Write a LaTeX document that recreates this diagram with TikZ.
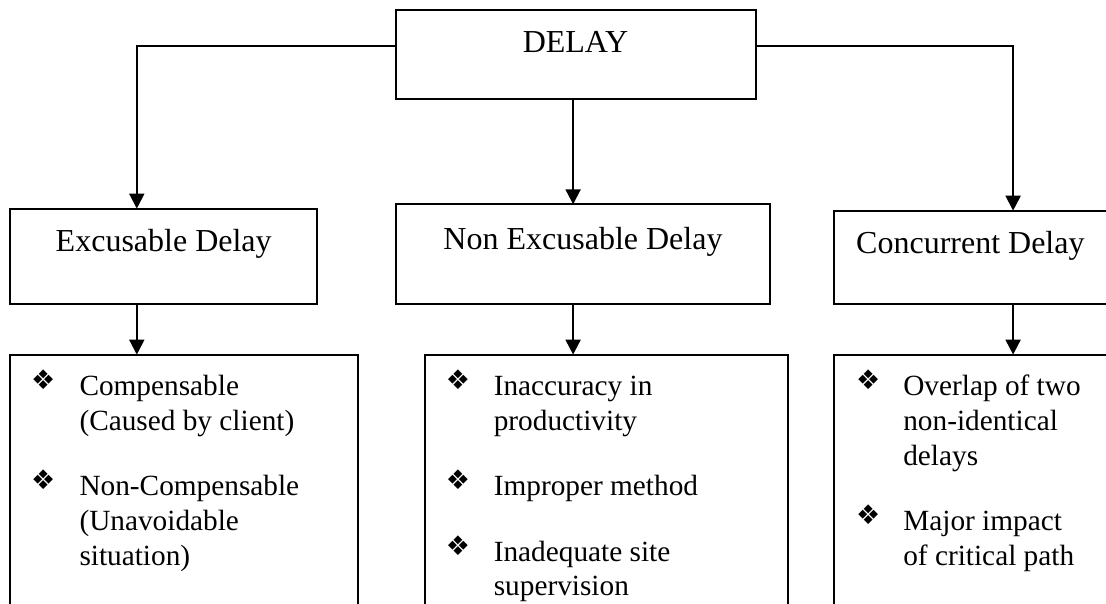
\documentclass[tikz,border=0pt]{standalone}
\usepackage{fontspec}
\setmainfont{Liberation Serif}
\newfontfamily\symfont{DejaVu Sans}
\usetikzlibrary{arrows.meta}

\tikzset{
  box/.style={draw, line width=2pt, inner sep=0pt, outer sep=0pt, anchor=north west},
  arrowlink/.style={line width=2pt, -{Triangle[width=15pt,length=15pt]}},
  head/.style={font=\fontsize{32}{34.7}\selectfont, inner sep=0pt},
  item/.style={font=\fontsize{29.3}{34.7}\selectfont, inner sep=0pt, anchor=base west,
               text width=290pt, align=flush left},
  bullet/.style={font=\symfont\fontsize{27}{27}\selectfont, inner sep=0pt}
}

\begin{document}
\begin{tikzpicture}[x=1pt, y=-1pt]
  \useasboundingbox (0,0) rectangle (1106,603);
  \clip (0,0) rectangle (1106,603);

  % boxes: top level, categories, lists of causes
  \node[box, minimum width=359.2pt, minimum height=89.7pt] (delay) at (396.4,9.6) {};
  \node[box, minimum width=307pt,   minimum height=95pt]   (exc)   at (10,208.6) {};
  \node[box, minimum width=373.9pt, minimum height=99.3pt] (nexc)  at (396.4,204.3) {};
  \node[box, minimum width=300pt,   minimum height=92.9pt] (conc)  at (834.2,210.7) {};
  \node[box, minimum width=347.9pt, minimum height=270pt]  (list1) at (10,354.6) {};
  \node[box, minimum width=362.8pt, minimum height=270pt]  (list2) at (425,354.6) {};
  \node[box, minimum width=300pt,   minimum height=270pt]  (list3) at (834.2,354.6) {};

  % branch lines
  \coordinate (jl) at (136.8,45.7);
  \coordinate (jm) at (573.1,45.7);
  \coordinate (jr) at (1013.1,45.7);

  \draw[arrowlink] (delay.west |- jl) -- (jl) -- (exc.north -| jl);
  \draw[arrowlink] (delay.south -| jm) -- (nexc.north -| jm);
  \draw[arrowlink] (delay.east |- jr) -- (jr) -- (conc.north -| jr);
  \draw[arrowlink] (exc.south -| jl) -- (list1.north -| jl);
  \draw[arrowlink] (nexc.south -| jm) -- (list2.north -| jm);
  \draw[arrowlink] (conc.south -| jr) -- (list3.north -| jr);

  % headings
  \node[head, anchor=base] (tdelay) at (575.5,52.9) {DELAY};
  \node[head, anchor=base] (texc) at (163.7,251.8) {Excusable Delay};
  \node[head, anchor=base] (tnexc) at (583,249) {Non Excusable Delay};
  \node[head, anchor=base west] (tconc) at (856,253.6) {Concurrent Delay};

  % excusable delay
  \node[bullet] (b11) at (43.3,380) {❖};
  \node[item] (i11) at (79.3,395.7) {Compensable\\(Caused by client)};
  \node[bullet] (b12) at (43.3,480) {❖};
  \node[item] (i12) at (79.3,495.7) {Non-Compensable\\(Unavoidable\\situation)};

  % non excusable delay
  \node[bullet] (b21) at (458,380) {❖};
  \node[item] (i21) at (493.6,395.7) {Inaccuracy in\\productivity};
  \node[bullet] (b22) at (458,480) {❖};
  \node[item] (i22) at (493.6,495.7) {Improper method};
  \node[bullet] (b23) at (458,545.3) {❖};
  \node[item] (i23) at (493.6,561) {Inadequate site\\supervision};

  % concurrent delay
  \node[bullet] (b31) at (868.2,380) {❖};
  \node[item] (i31) at (903.1,395.7) {Overlap of two\\non-identical\\delays};
  \node[bullet] (b32) at (868.2,514.7) {❖};
  \node[item] (i32) at (903.1,530.4) {Major impact\\of critical path};
\end{tikzpicture}
\end{document}
